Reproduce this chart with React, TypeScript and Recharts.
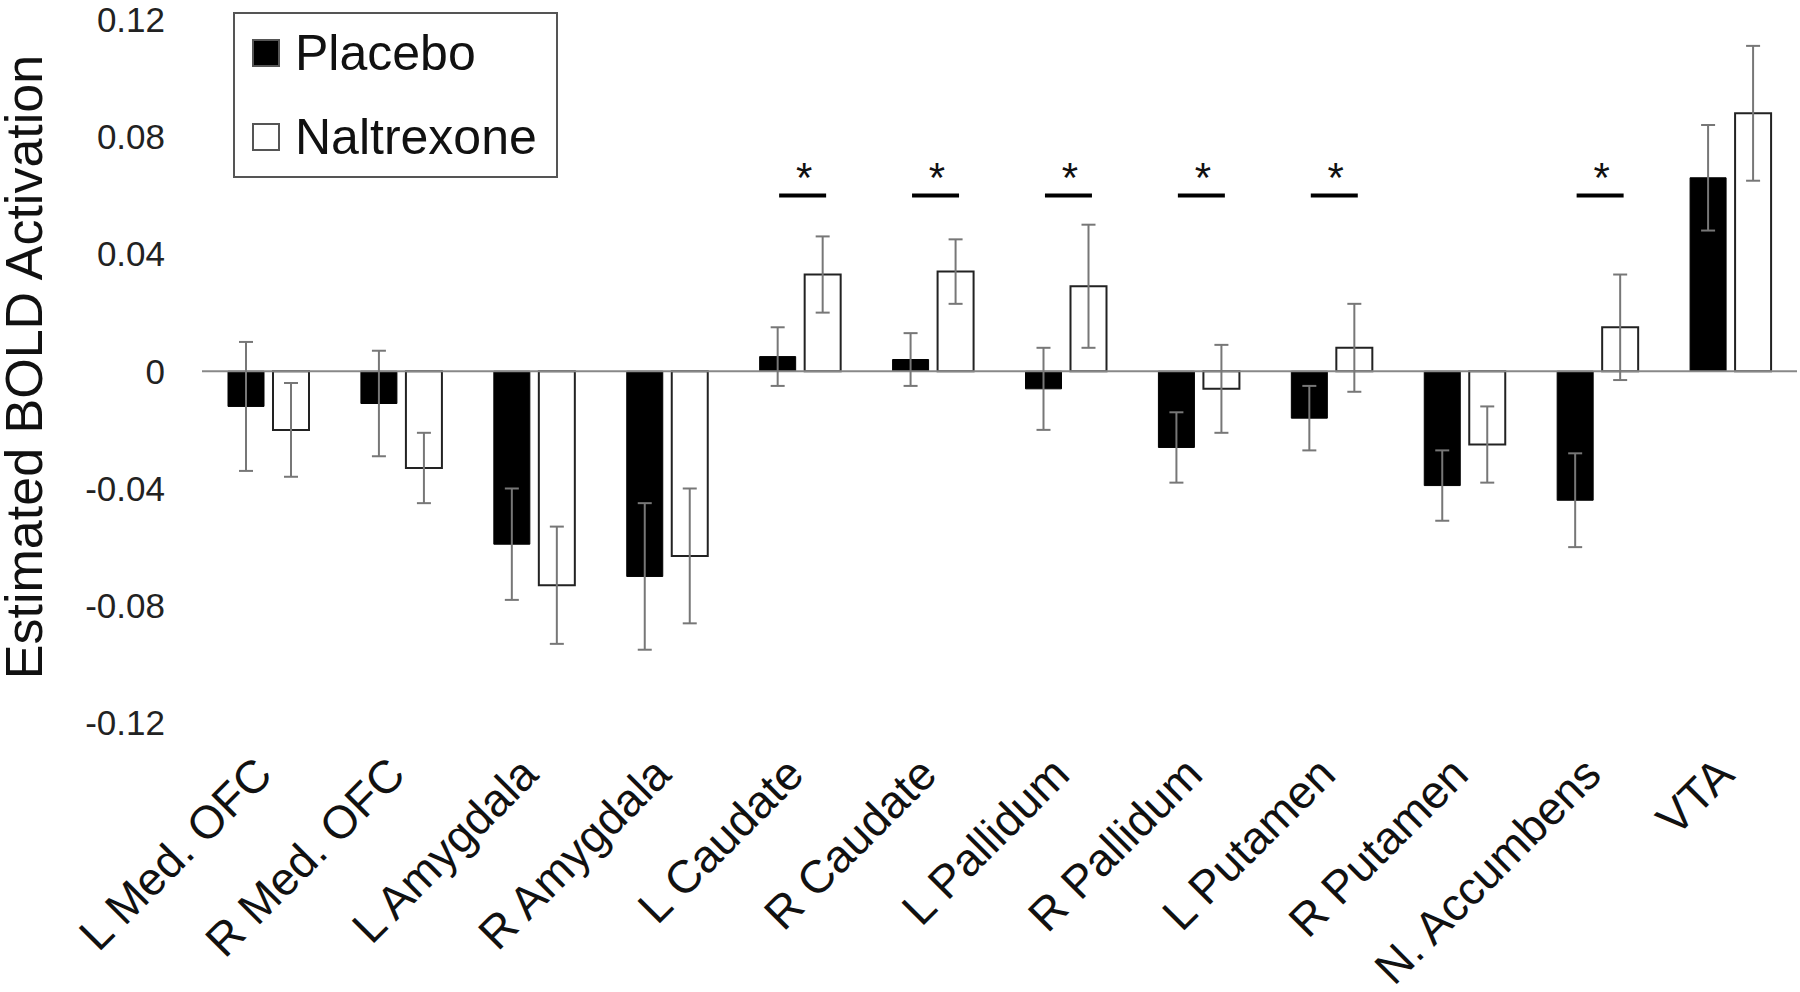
import React from 'react'
import {
  ComposedChart,
  Bar,
  Line,
  XAxis,
  YAxis,
  ErrorBar,
  ReferenceLine,
  Legend,
  Label
} from 'recharts'

// 뇌 영역 (x축 카테고리)
const regions = [
  'L Med. OFC',
  'R Med. OFC',
  'L Amygdala',
  'R Amygdala',
  'L Caudate',
  'R Caudate',
  'L Pallidum',
  'R Pallidum',
  'L Putamen',
  'R Putamen',
  'N. Accumbens',
  'VTA'
]

const seriesNames = ['Placebo', 'Naltrexone']

const placebo = [-0.012, -0.011, -0.059, -0.07, 0.005, 0.004, -0.006, -0.026, -0.016, -0.039, -0.044, 0.066]
const placeboErr = [0.022, 0.018, 0.019, 0.025, 0.01, 0.009, 0.014, 0.012, 0.011, 0.012, 0.016, 0.018]
const naltrexone = [-0.02, -0.033, -0.073, -0.063, 0.033, 0.034, 0.029, -0.006, 0.008, -0.025, 0.015, 0.088]
const naltrexoneErr = [0.016, 0.012, 0.02, 0.023, 0.013, 0.011, 0.021, 0.015, 0.015, 0.013, 0.018, 0.023]
const significant = [false, false, false, false, true, true, true, true, true, false, true, false]
const sigLevel = 0.06

const yTicks = [-0.12, -0.08, -0.04, 0, 0.04, 0.08, 0.12]

const FONT = '"Liberation Sans", Arial, sans-serif'

const chartData = regions.map((name, i) => ({
  name,
  placebo: placebo[i],
  placeboErr: placeboErr[i],
  naltrexone: naltrexone[i],
  naltrexoneErr: naltrexoneErr[i],
  sig: significant[i] ? sigLevel : null
}))

const RegionTick = ({ x, y, payload }: any) => (
  <g transform={`translate(${x + 6},${y + 54})`}>
    <text
      textAnchor="end"
      transform="rotate(-45)"
      fontSize={46}
      fontFamily={FONT}
      fill="#111"
    >
      {payload.value}
    </text>
  </g>
)

const SigMark = (props: any) => {
  const { cx, cy, value, index } = props
  if (value == null || cy == null) return <g key={`sig-${index}`} />
  return (
    <g key={`sig-${index}`}>
      <line x1={cx - 21} x2={cx + 26} y1={cy} y2={cy} stroke="#000" strokeWidth={4} />
      <text x={cx + 4} y={cy - 3} textAnchor="middle" fontSize={42} fontFamily={FONT} fill="#111">
        *
      </text>
    </g>
  )
}

const renderLegend = ({ payload }: any) => {
  const items = (payload || [])
    .filter((p: any) => p.type !== 'none')
    .sort((a: any, b: any) => seriesNames.indexOf(a.value) - seriesNames.indexOf(b.value))
  return (
    <div
      style={{
        position: 'relative',
        width: 325,
        height: 166,
        border: '2px solid #555',
        boxSizing: 'border-box',
        background: '#fff',
        fontFamily: FONT
      }}
    >
      {items.map((entry: any, i: number) => (
        <div
          key={entry.value}
          style={{
            position: 'absolute',
            left: 17,
            top: i === 0 ? 11 : 95,
            height: 56,
            display: 'flex',
            alignItems: 'center'
          }}
        >
          <span
            style={{
              display: 'inline-block',
              width: 28,
              height: 28,
              boxSizing: 'border-box',
              background: entry.payload?.fill ?? entry.color,
              border: '2px solid #555'
            }}
          />
          <span style={{ marginLeft: 15, fontSize: 50, lineHeight: '56px', color: '#111' }}>
            {entry.value}
          </span>
        </div>
      ))}
    </div>
  )
}

export default function App() {
  return (
    <div style={{ position: 'absolute', left: 0, top: 0, width: 1800, height: 992, background: '#fff' }}>
      <ComposedChart
        width={1800}
        height={992}
        data={chartData}
        margin={{ top: 19.5, right: 3, left: 52, bottom: 69 }}
        barGap={9}
        barSize={36}
      >
        <XAxis
          dataKey="name"
          axisLine={false}
          tickLine={false}
          tickSize={0}
          tickMargin={0}
          interval={0}
          height={200}
          tick={<RegionTick />}
        />
        <YAxis
          width={150}
          domain={[-0.12, 0.12]}
          ticks={yTicks}
          axisLine={false}
          tickLine={false}
          tickSize={0}
          tickMargin={37}
          tickFormatter={(v: number) => (v === 0 ? '0' : v.toFixed(2))}
          tick={{ fontSize: 35, fill: '#222', fontFamily: FONT }}
        >
          <Label
            content={() => (
              <text
                transform="translate(42,367) rotate(-90)"
                textAnchor="middle"
                fontSize={52}
                fontFamily={FONT}
                fill="#111"
              >
                Estimated BOLD Activation
              </text>
            )}
          />
        </YAxis>
        <ReferenceLine y={0} stroke="#888" strokeWidth={2} />
        <Bar dataKey="placebo" name="Placebo" fill="#000" stroke="#000" strokeWidth={1} isAnimationActive={false}>
          <ErrorBar dataKey="placeboErr" width={7} strokeWidth={2} stroke="#777" direction="y" />
        </Bar>
        <Bar dataKey="naltrexone" name="Naltrexone" fill="#fff" stroke="#222" strokeWidth={2} isAnimationActive={false}>
          <ErrorBar dataKey="naltrexoneErr" width={7} strokeWidth={2} stroke="#777" direction="y" />
        </Bar>
        <Line
          dataKey="sig"
          stroke="none"
          legendType="none"
          dot={SigMark}
          activeDot={false}
          isAnimationActive={false}
        />
        <Legend
          layout="horizontal"
          verticalAlign="middle"
          align="center"
          wrapperStyle={{ left: 233, top: 12, width: 325, height: 166 }}
          content={renderLegend}
        />
      </ComposedChart>
    </div>
  )
}
